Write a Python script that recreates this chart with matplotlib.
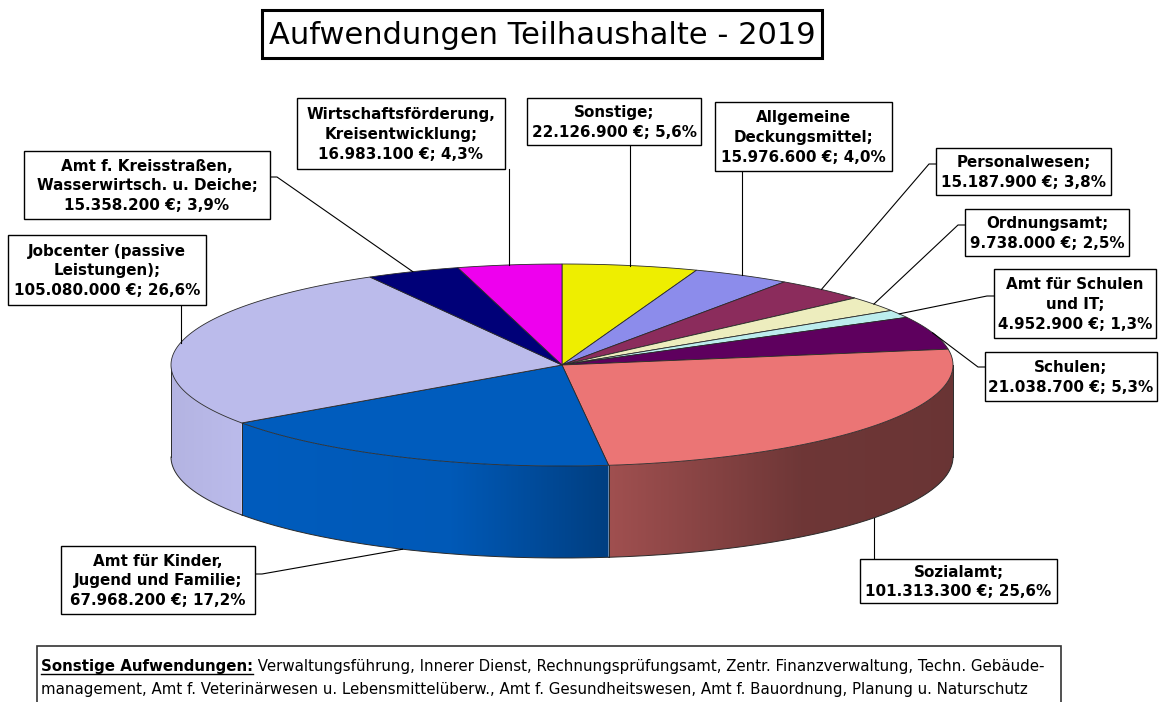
import numpy as np
import matplotlib
matplotlib.use("Agg")
import matplotlib.pyplot as plt
from matplotlib.patches import Polygon, Rectangle
from matplotlib.colors import to_rgb

# ---------------- data ----------------
categories = [
    "Sonstige",
    "Allgemeine\nDeckungsmittel",
    "Personalwesen",
    "Ordnungsamt",
    "Amt für Schulen\nund IT",
    "Schulen",
    "Sozialamt",
    "Amt für Kinder,\nJugend und Familie",
    "Jobcenter (passive\nLeistungen)",
    "Amt f. Kreisstraßen,\nWasserwirtsch. u. Deiche",
    "Wirtschaftsförderung,\nKreisentwicklung",
]
values = [22126900, 15976600, 15187900, 9738000, 4952900, 21038700,
          101313300, 67968200, 105080000, 15358200, 16983100]
colors = ["#EEEE00", "#8C8CEB", "#8B2C5C", "#EDEDBE", "#BCEDED", "#5E005E",
          "#EB7575", "#005CBD", "#BBBBEB", "#000078", "#EE00EE"]

title = "Aufwendungen Teilhaushalte - 2019"
note_head = "Sonstige Aufwendungen:"
note_line1 = (" Verwaltungsführung, Innerer Dienst, Rechnungsprüfungsamt, "
              "Zentr. Finanzverwaltung, Techn. Gebäude-")
note_line2 = ("management, Amt f. Veterinärwesen u. Lebensmittelüberw., "
              "Amt f. Gesundheitswesen, Amt f. Bauordnung, Planung u. Naturschutz")

# label boxes (layout): x0, y0, x1, y1 in pixels
label_boxes = [
    (527, 98, 701, 145),
    (715, 102, 892, 171),
    (936, 148, 1111, 195),
    (965, 209, 1129, 256),
    (994, 269, 1156, 338),
    (985, 352, 1157, 401),
    (860, 559, 1057, 603),
    (61, 546, 255, 614),
    (8, 235, 206, 305),
    (24, 151, 270, 219),
    (297, 98, 505, 169),
]
# leader attachment: ('v',) vertical; ('left', y) / ('right', y) elbow
leader_spec = [("v",), ("v",), ("left", 164), ("left", 225), ("left", 296),
               ("left", 367), ("v",), ("right", 574), ("v",), ("right", 177), ("v",)]

# ---------------- figure ----------------
W, H = 1164, 702
fig = plt.figure(figsize=(W / 100, H / 100), dpi=100)
ax = fig.add_axes([0, 0, 1, 1])
ax.axis("off")

cx, cy, rx, ry, depth = 562, 365, 391, 101, 92

total = float(sum(values))
fracs = np.array(values) / total
edges = np.concatenate([[0], np.cumsum(fracs)]) * 360.0


def pt(t, dz=0.0):
    r = np.radians(t)
    return cx + rx * np.sin(r), cy - ry * np.cos(r) + dz


def shade(x):
    return np.interp(x, [cx - rx, 240, 450, 610, 800, cx + rx],
                     [0.96, 1.0, 0.97, 0.68, 0.47, 0.45])


edge_col = "#2a2a2a"

# side walls (front half, 90..270 deg)
for i, (a, b) in enumerate(zip(edges[:-1], edges[1:])):
    lo, hi = max(a, 90.0), min(b, 270.0)
    if lo >= hi:
        continue
    ts = np.linspace(lo, hi, 300)
    xs, ys = pt(ts)
    poly = np.vstack([np.column_stack([xs, ys]),
                      np.column_stack([xs[::-1], ys[::-1] + depth])])
    clip = Polygon(poly, closed=True, facecolor="none", edgecolor="none")
    ax.add_patch(clip)
    xmin, xmax = xs.min(), xs.max()
    gx = np.linspace(xmin, xmax, 400)
    base = np.array(to_rgb(colors[i]))
    img = np.clip(shade(gx)[:, None] * base[None, :], 0, 1)[None, :, :]
    im = ax.imshow(img, extent=(xmin, xmax, ys.max() + depth + 1, ys.min() - 1),
                   aspect="auto", interpolation="bilinear", zorder=1)
    im.set_clip_path(clip)
    ax.plot(xs, ys + depth, color=edge_col, lw=0.7, zorder=2)

# vertical edges on side walls
for t in list(edges[1:-1]) + [90.0, 270.0]:
    if 90.0 <= t <= 270.0:
        x, y = pt(t)
        ax.plot([x, x], [y, y + depth], color=edge_col, lw=0.7, zorder=2)

# top face
for i, (a, b) in enumerate(zip(edges[:-1], edges[1:])):
    ts = np.linspace(a, b, max(int((b - a) * 3), 3))
    xs, ys = pt(ts)
    poly = [[cx, cy]] + list(zip(xs, ys))
    ax.add_patch(Polygon(poly, closed=True, facecolor=colors[i],
                         edgecolor=edge_col, lw=0.6, zorder=3))

# labels and leader lines
for i, (name, v) in enumerate(zip(categories, values)):
    x0, y0, x1, y1 = label_boxes[i]
    ax.add_patch(Rectangle((x0, y0), x1 - x0, y1 - y0, facecolor="white",
                           edgecolor="black", lw=1.0, zorder=5))
    money = f"{v:,}".replace(",", ".")
    pct = f"{v / total * 100:.1f}".replace(".", ",")
    ax.text((x0 + x1) / 2, (y0 + y1) / 2 + 1, f"{name};\n{money} €; {pct}%",
            ha="center", va="center", fontsize=10.9, fontweight="bold",
            linespacing=1.38, zorder=6, family="DejaVu Sans")
    m = (edges[i] + edges[i + 1]) / 2
    if 90 < m < 270:
        axp = pt(m, depth)
    else:
        axp = pt(m)
    spec = leader_spec[i]
    if spec[0] == "v":
        ystart = y1 if y1 < axp[1] else y0
        xs_l = [axp[0], axp[0]]
        ys_l = [ystart, axp[1]]
    elif spec[0] == "left":
        xs_l = [x0, x0 - 7, axp[0]]
        ys_l = [spec[1], spec[1], axp[1]]
    else:
        xs_l = [x1, x1 + 7, axp[0]]
        ys_l = [spec[1], spec[1], axp[1]]
    ax.plot(xs_l, ys_l, color="black", lw=0.8, zorder=4)

# title
ax.add_patch(Rectangle((262, 10), 560, 48, facecolor="white", edgecolor="black",
                       lw=2.2, zorder=5))
ax.text(542, 35, title, ha="center", va="center", fontsize=22, zorder=6,
        family="DejaVu Sans")

# note box
ax.add_patch(Rectangle((37, 646), 1024, 90, facecolor="white", edgecolor="#333333",
                       lw=1.2, zorder=5))
fs_note = 10.85
head = ax.text(41, 671, note_head, ha="left", va="baseline", fontsize=fs_note,
               fontweight="bold", zorder=6, family="DejaVu Sans")
ax.text(41, 694, note_line2, ha="left", va="baseline", fontsize=fs_note, zorder=6,
        family="DejaVu Sans")

ax.set_xlim(0, W)
ax.set_ylim(H, 0)

fig.canvas.draw()
bb = head.get_window_extent(renderer=fig.canvas.get_renderer())
inv = ax.transData.inverted()
(hx0, _), (hx1, _) = inv.transform([(bb.x0, bb.y0), (bb.x1, bb.y0)])
ax.text(hx1, 671, note_line1, ha="left", va="baseline", fontsize=fs_note, zorder=6,
        family="DejaVu Sans")
ax.plot([hx0, hx1], [673.5, 673.5], color="black", lw=1.0, zorder=6)

ax.set_xlim(0, W)
ax.set_ylim(H, 0)
fig.savefig("out.png", dpi=100)
